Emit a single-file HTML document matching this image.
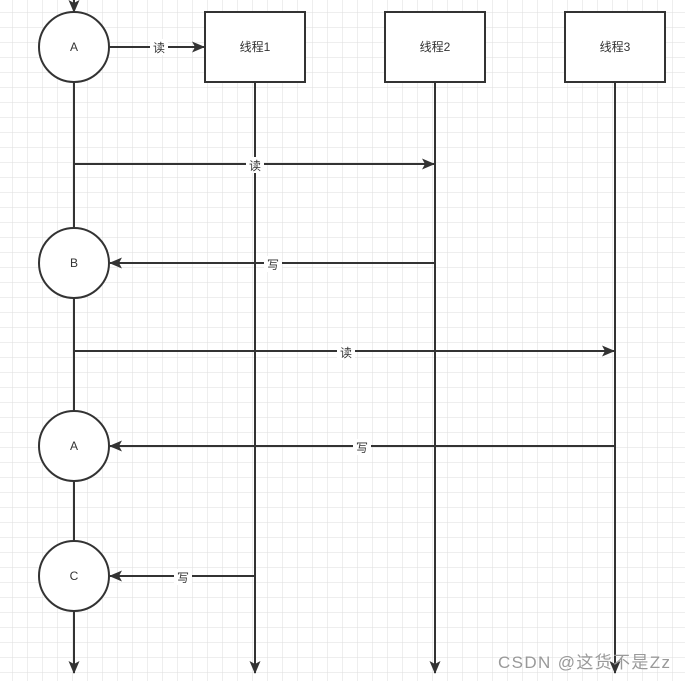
<!DOCTYPE html><html><head><meta charset="utf-8"><style>body{margin:0;background:#fff}svg{display:block}</style></head><body>
<svg width="685" height="681" xmlns="http://www.w3.org/2000/svg" font-family="Liberation Sans, Noto Sans CJK SC, sans-serif" font-size="12">
<defs><pattern id="g" width="15" height="15" patternUnits="userSpaceOnUse" x="-2" y="-2"><path d="M15 0V15H0" fill="none" stroke="#dedede" stroke-width="1"/></pattern>
<marker id="a" markerWidth="13" markerHeight="11" refX="12" refY="5.5" orient="auto" markerUnits="userSpaceOnUse"><path d="M0 0L13 5.5L0 11L3 5.5Z" fill="#333"/></marker></defs>
<rect width="685" height="681" fill="url(#g)"/>
<g stroke="#333" stroke-width="2" fill="none">
<line x1="74" y1="0" x2="74" y2="12" marker-end="url(#a)"/>
<line x1="74" y1="82" x2="74" y2="673" marker-end="url(#a)"/>
<line x1="255" y1="82" x2="255" y2="673" marker-end="url(#a)"/>
<line x1="435" y1="82" x2="435" y2="673" marker-end="url(#a)"/>
<line x1="615" y1="82" x2="615" y2="673" marker-end="url(#a)"/>
<line x1="109" y1="47" x2="204" y2="47" marker-end="url(#a)"/>
<line x1="74" y1="164" x2="434" y2="164" marker-end="url(#a)"/>
<line x1="435" y1="263" x2="110" y2="263" marker-end="url(#a)"/>
<line x1="74" y1="351" x2="614" y2="351" marker-end="url(#a)"/>
<line x1="615" y1="446" x2="110" y2="446" marker-end="url(#a)"/>
<line x1="255" y1="576" x2="110" y2="576" marker-end="url(#a)"/>
</g>
<g stroke="#333" stroke-width="2" fill="#fff">
<circle cx="74" cy="47" r="35"/><circle cx="74" cy="263" r="35"/><circle cx="74" cy="446" r="35"/><circle cx="74" cy="576" r="35"/>
<rect x="205" y="12" width="100" height="70"/><rect x="385" y="12" width="100" height="70"/><rect x="565" y="12" width="100" height="70"/>
</g>
<g fill="#333" text-anchor="middle">
<text x="74" y="51">A</text><text x="74" y="267">B</text><text x="74" y="450">A</text><text x="74" y="580">C</text>
<text x="255" y="51">线程1</text><text x="435" y="51">线程2</text><text x="615" y="51">线程3</text>
</g>
<g fill="#333" text-anchor="middle">
<rect x="150" y="39" width="18" height="16" fill="#fff"/><text x="159" y="52">读</text>
<rect x="246" y="157" width="18" height="16" fill="#fff"/><text x="255" y="170">读</text>
<rect x="264" y="256" width="18" height="16" fill="#fff"/><text x="273" y="269">写</text>
<rect x="337" y="344" width="18" height="16" fill="#fff"/><text x="346" y="357">读</text>
<rect x="353" y="439" width="18" height="16" fill="#fff"/><text x="362" y="452">写</text>
<rect x="174" y="569" width="18" height="16" fill="#fff"/><text x="183" y="582">写</text>
</g>
<text x="498" y="668" font-size="17" fill="#999" textLength="172">CSDN @这货不是Zz</text>
</svg></body></html>
